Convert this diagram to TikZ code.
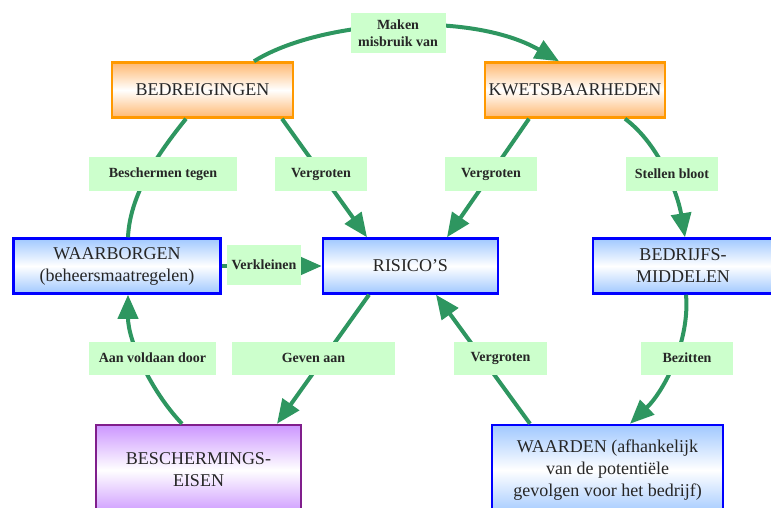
\documentclass[tikz,border=0pt]{standalone}
\usepackage{fontspec}
\setmainfont{Liberation Serif}
\usetikzlibrary{arrows.meta}

\definecolor{linkgreen}{RGB}{46,150,96}
\definecolor{lblgreen}{RGB}{204,255,204}
\definecolor{orangeline}{RGB}{255,153,0}
\definecolor{orangefill}{RGB}{255,184,112}
\definecolor{blueline}{RGB}{0,0,255}
\definecolor{bluefill}{RGB}{160,200,255}
\definecolor{purpleline}{RGB}{128,30,140}
\definecolor{purplefill}{RGB}{204,150,255}
\definecolor{boxtext}{RGB}{38,38,38}

\tikzset{
  box/.style={draw, line width=2.5pt, inner sep=0pt, minimum height=55pt,
    align=center, text=boxtext, font=\fontsize{18}{22}\selectfont},
  orangebox/.style={box, draw=orangeline, top color=orangefill,
    bottom color=orangefill, middle color=white},
  bluebox/.style={box, draw=blueline, top color=bluefill,
    bottom color=bluefill, middle color=white},
  purplebox/.style={box, draw=purpleline, top color=purplefill,
    bottom color=purplefill, middle color=white},
  lbl/.style={fill=lblgreen, inner sep=0pt, minimum height=33pt,
    align=center, text=boxtext, font=\bfseries\fontsize{14}{17}\selectfont},
  link/.style={draw=linkgreen, line width=4pt},
  arr/.style={link, -{Triangle[length=24pt,width=20pt]}},
}

\begin{document}
\begin{tikzpicture}[x=1pt, y=-1pt]
  \useasboundingbox (0,0) rectangle (771,508);

  % boxes
  \node[orangebox, minimum width=181pt] (bed) at (202.5,90) {BEDREIGINGEN};
  \node[orangebox, minimum width=180pt] (kwe) at (575,90) {KWETSBAARHEDEN};
  \node[bluebox, minimum width=207pt] (waa) at (117,266) {WAARBORGEN\\(beheersmaatregelen)};
  \node[bluebox, minimum width=175pt] (ris) at (410.5,266) {RISICO'S};
  \node[bluebox, minimum width=180pt] (mid) at (683,266) {BEDRIJFS-\\MIDDELEN};
  \node[purplebox, minimum width=205pt, minimum height=90pt] (bes) at (198.5,470) {BESCHERMINGS-\\EISEN};
  \node[bluebox, minimum width=231pt, minimum height=90pt] (wrd) at (607.5,470)
    {WAARDEN (afhankelijk\\van de potentiële\\gevolgen voor het bedrijf)};

  % connectors
  \draw[arr] ([xshift=51.5pt]bed.north) .. controls (320,20) and (470,10) .. ([xshift=-16pt]kwe.north);
  \draw[link] ([xshift=-16.5pt]bed.south) .. controls (165,145) and (130,190) .. ([xshift=11pt]waa.north);
  \draw[arr] ([xshift=79.5pt]bed.south) -- ([xshift=-43.5pt]ris.north);
  \draw[arr] ([xshift=-46pt]kwe.south) -- ([xshift=36.5pt]ris.north);
  \draw[arr] ([xshift=50pt]kwe.south) .. controls (660,145) and (678,195) .. ([xshift=2pt]mid.north);
  \draw[arr] (waa.east) -- (ris.west);
  \draw[arr] ([xshift=-16.5pt]bes.north) .. controls (150,390) and (128,340) .. ([xshift=11pt]waa.south);
  \draw[arr] ([xshift=-41.5pt]ris.south) -- ([xshift=78.5pt]bes.north);
  \draw[arr] ([xshift=-77.5pt]wrd.north) -- ([xshift=25.5pt]ris.south);
  \draw[arr] ([xshift=3pt]mid.south) .. controls (690,340) and (665,390) .. ([xshift=22.5pt]wrd.north);

  % labels
  \node[lbl, minimum width=95pt, minimum height=40pt] (lmis) at (398,33) {Maken\\misbruik van};
  \node[lbl, minimum width=148pt] (lbes) at (163,174) {Beschermen tegen};
  \node[lbl, minimum width=92pt] (lvg1) at (321,174) {Vergroten};
  \node[lbl, minimum width=92pt] (lvg2) at (491,174) {Vergroten};
  \node[lbl, minimum width=92pt] (lste) at (672,174) {Stellen bloot};
  \node[lbl, minimum width=74pt, minimum height=40pt] (lver) at (264,265) {Verkleinen};
  \node[lbl, minimum width=127pt] (laan) at (152.5,358) {Aan voldaan door};
  \node[lbl, minimum width=163pt] (lgev) at (313.5,358) {Geven aan};
  \node[lbl, minimum width=93pt] (lvg3) at (500.5,358) {Vergroten};
  \node[lbl, minimum width=92pt] (lbez) at (687,358) {Bezitten};
\end{tikzpicture}
\end{document}
